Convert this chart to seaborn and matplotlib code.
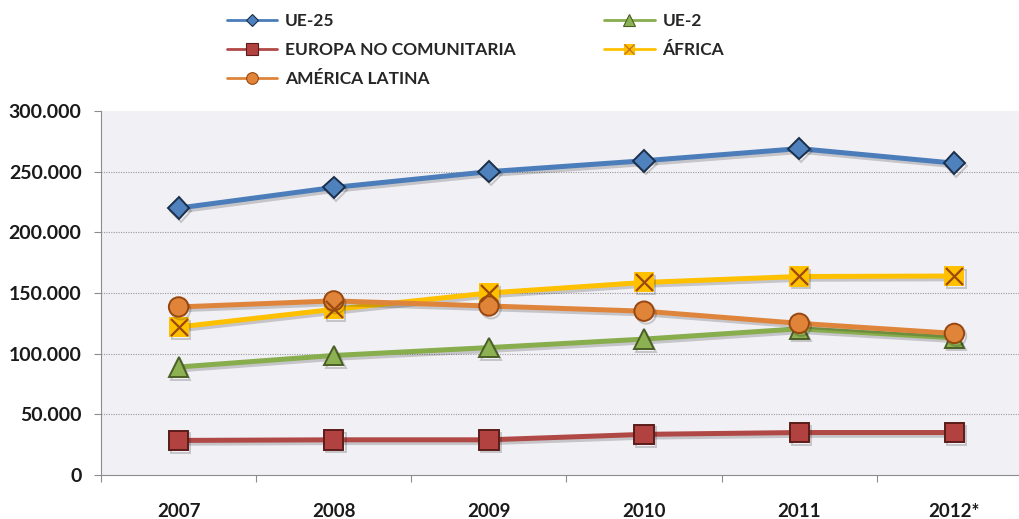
import matplotlib
matplotlib.use('Agg')
import matplotlib.pyplot as plt
import matplotlib.patheffects as pe
from matplotlib.lines import Line2D
from matplotlib.legend_handler import HandlerTuple
import pandas as pd
import seaborn as sns

# Data
years = ['2007', '2008', '2009', '2010', '2011', '2012*']
ue25 = [220000, 237000, 250000, 259000, 269000, 257000]
ue2 = [89000, 98500, 105000, 112000, 120500, 113000]
europa_nc = [28500, 29000, 29000, 33500, 35000, 35000]
africa = [122000, 136500, 150000, 158700, 163600, 164000]
america_latina = [138500, 143500, 139300, 135000, 125000, 116700]
yticks = [0, 50000, 100000, 150000, 200000, 250000, 300000]
ytick_labels = ['0', '50.000', '100.000', '150.000', '200.000', '250.000', '300.000']

series = {
    'UE-25': ue25,
    'UE-2': ue2,
    'EUROPA NO COMUNITARIA': europa_nc,
    'ÁFRICA': africa,
    'AMÉRICA LATINA': america_latina,
}

# line colour, marker, marker size, face, edge
styles = {
    'UE-25': ('#4A7DBA', 'D', 11, '#4F81BD', '#1B2F4A'),
    'UE-2': ('#88AD4C', '^', 14, '#8CB152', '#4A5F24'),
    'EUROPA NO COMUNITARIA': ('#B04845', 's', 14, '#B2423F', '#5A1C1B'),
    'ÁFRICA': ('#FFC000', 's', 13, '#FFC000', '#FFC000'),
    'AMÉRICA LATINA': ('#DE853B', 'o', 14, '#DF8439', '#97470F'),
}

rows = []
for name, vals in series.items():
    for yr, v in zip(years, vals):
        rows.append({'serie': name, 'year': yr, 'value': v})
df = pd.DataFrame(rows)

sns.set_style('white')
plt.rcParams['font.family'] = ['Lato', 'DejaVu Sans']
plt.rcParams['font.weight'] = 'bold'

fig = plt.figure(figsize=(10.2, 5.19), dpi=100)
ax = fig.add_axes([101 / 1020, 44 / 519, 931 / 1020, 364 / 519])
ax.set_facecolor('#F1F0F5')

for v in yticks[1:-1]:
    ax.axhline(v, color='#9A9A9A', lw=0.8, ls=(0, (1, 1.2)), zorder=1)

shadow = [pe.SimpleLineShadow(offset=(1.5, -2), alpha=0.18, rho=0.6), pe.Normal()]

# draw order: back to front as in the original
order = ['EUROPA NO COMUNITARIA', 'UE-2', 'ÁFRICA', 'AMÉRICA LATINA', 'UE-25']
for name in order:
    color, marker, ms, mfc, mec = styles[name]
    sub = df[df['serie'] == name]
    sns.lineplot(data=sub, x='year', y='value', ax=ax, color=color, lw=3.6,
                 marker=marker, markersize=ms, markerfacecolor=mfc,
                 markeredgecolor=mec, markeredgewidth=1.4, zorder=3,
                 path_effects=shadow, legend=False)
    if name == 'ÁFRICA':
        sns.scatterplot(data=sub, x='year', y='value', ax=ax, marker='x',
                        s=150, color='#9A4A0C', linewidth=1.6, zorder=4,
                        legend=False)

ax.set_xlim(-0.5, len(years) - 0.5)
ax.set_ylim(0, 300000)
ax.set_yticks(yticks)
ax.set_yticklabels(ytick_labels)
ax.set_xticks(range(len(years)))
ax.set_xticklabels(years)
ax.set_xticks([i - 0.5 for i in range(len(years) + 1)], minor=True)
ax.set_xlabel('')
ax.set_ylabel('')

ax.tick_params(axis='y', which='major', direction='out', length=5, width=0.8,
               color='#8C8C8C', pad=9, labelsize=14, left=True)
ax.tick_params(axis='x', which='major', length=0, pad=20, labelsize=13.5)
ax.tick_params(axis='x', which='minor', direction='out', length=5, width=0.8,
               color='#8C8C8C', bottom=True)
for lab in ax.get_xticklabels() + ax.get_yticklabels():
    lab.set_fontweight('bold')
    lab.set_color('#1A1A1A')

for s in ['top', 'right']:
    ax.spines[s].set_visible(False)
for s in ['left', 'bottom']:
    ax.spines[s].set_color('#8C8C8C')
    ax.spines[s].set_linewidth(0.8)

# legend, laid out column-wise like the original
handles = []
labels = ['UE-25', 'EUROPA NO COMUNITARIA', 'AMÉRICA LATINA', 'UE-2', 'ÁFRICA']
for name in labels:
    color, marker, ms, mfc, mec = styles[name]
    h = Line2D([], [], color=color, lw=2, marker=marker, markersize=ms * 0.6,
               markerfacecolor=mfc, markeredgecolor=mec, markeredgewidth=0.8)
    if name == 'ÁFRICA':
        x = Line2D([], [], color='none', marker='x', markersize=7,
                   markeredgecolor='#C0702A', markeredgewidth=0.9)
        h = (h, x)
    handles.append(h)

fig.legend(handles, labels, loc='upper left', bbox_to_anchor=(0.207, 1.005),
           ncol=2, frameon=False, handlelength=2.9,
           handletextpad=0.45, labelspacing=0.75, columnspacing=5.1,
           handler_map={tuple: HandlerTuple(ndivide=1)},
           prop={'weight': 'bold', 'size': 12.5})

fig.savefig('out.png', dpi=100)
